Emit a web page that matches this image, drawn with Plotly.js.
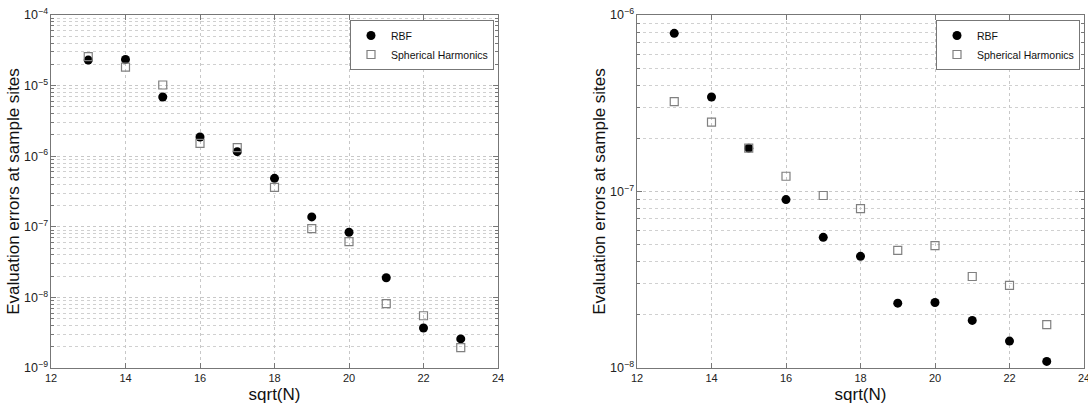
<!DOCTYPE html>
<html>
<head>
<meta charset="utf-8">
<script src="https://cdn.plot.ly/plotly-3.0.1.min.js"></script>
<style>html,body{margin:0;padding:0;background:#fff;}#chart{width:1088px;height:404px;}</style>
</head>
<body>
<div id="chart"></div>
<script>
// sqrt(N) values
const sqrtN = [13, 14, 15, 16, 17, 18, 19, 20, 21, 22, 23];
// Left panel
const leftRBF = [2.3e-5, 2.35e-5, 6.9e-6, 1.87e-6, 1.16e-6, 4.86e-7, 1.38e-7, 8.36e-8, 1.9e-8, 3.69e-9, 2.58e-9];
const leftSH  = [2.57e-5, 1.83e-5, 1.02e-5, 1.52e-6, 1.32e-6, 3.62e-7, 9.4e-8, 6.15e-8, 8.15e-9, 5.5e-9, 1.94e-9];
// Right panel
const rightRBF = [7.87e-7, 3.43e-7, 1.76e-7, 9.0e-8, 5.5e-8, 4.29e-8, 2.33e-8, 2.35e-8, 1.86e-8, 1.42e-8, 1.09e-8];
const rightSH  = [3.23e-7, 2.47e-7, 1.76e-7, 1.22e-7, 9.49e-8, 8.0e-8, 4.64e-8, 4.93e-8, 3.3e-8, 2.94e-8, 1.76e-8];
const xTicks = [12, 14, 16, 18, 20, 22, 24];
const seriesNames = ["RBF", "Spherical Harmonics"];
const yTitle = "Evaluation errors at sample sites";
const xTitle = "sqrt(N)";

const FONT = "Arial, 'Liberation Sans', sans-serif";
const rbfMarker = {symbol: "circle", size: 9, color: "#000", line: {width: 0}};
const shMarker = {symbol: "square-open", size: 8, color: "#808080", line: {width: 1.2, color: "#808080"}};

const traces = [
  {x: sqrtN, y: leftRBF, name: seriesNames[0], mode: "markers", marker: rbfMarker, xaxis: "x", yaxis: "y", legend: "legend"},
  {x: sqrtN, y: leftSH, name: seriesNames[1], mode: "markers", marker: shMarker, xaxis: "x", yaxis: "y", legend: "legend"},
  {x: sqrtN, y: rightRBF, name: seriesNames[0], mode: "markers", marker: rbfMarker, xaxis: "x2", yaxis: "y2", legend: "legend2"},
  {x: sqrtN, y: rightSH, name: seriesNames[1], mode: "markers", marker: shMarker, xaxis: "x2", yaxis: "y2", legend: "legend2"}
];

const W = 1088, H = 404;
const yDom = [1 - 368 / H, 1 - 15 / H];

function xAxis(domain, anchor) {
  return {
    domain: domain, anchor: anchor, range: [12, 24],
    tickvals: xTicks, ticktext: xTicks.map(String),
    ticks: "inside", ticklen: 5, tickcolor: "#777", mirror: "allticks",
    showline: true, linecolor: "#777", linewidth: 1,
    showgrid: true, gridcolor: "#c8c8c8", griddash: "dot", gridwidth: 1,
    zeroline: false, ticklabeloverflow: "allow",
    tickfont: {family: FONT, size: 11, color: "#222"},
    title: {text: xTitle, font: {family: FONT, size: 17, color: "#111"}, standoff: 4}
  };
}
function yAxis(domain, anchor, range, standoff) {
  return {
    domain: domain, anchor: anchor, type: "log", range: range,
    dtick: 1, exponentformat: "power",
    ticks: "inside", ticklen: 5, tickcolor: "#777", mirror: "allticks",
    showline: true, linecolor: "#777", linewidth: 1,
    showgrid: true, gridcolor: "#c8c8c8", griddash: "dot", gridwidth: 1,
    minor: {dtick: "D1", ticks: "inside", ticklen: 3, tickcolor: "#777", showgrid: true, gridcolor: "#d0d0d0", griddash: "dot", gridwidth: 1},
    zeroline: false,
    tickfont: {family: FONT, size: 10, color: "#222"},
    title: {text: yTitle, font: {family: FONT, size: 17, color: "#111"}, standoff: standoff}
  };
}

const legendStyle = (x) => ({
  x: x, y: 1 - 20 / H, xanchor: "right", yanchor: "top",
  bgcolor: "#fff", bordercolor: "#777", borderwidth: 1,
  font: {family: FONT, size: 10.5, color: "#111"},
  tracegroupgap: 0
});

const layout = {
  width: W, height: H,
  margin: {l: 0, r: 0, t: 0, b: 0},
  paper_bgcolor: "#fff", plot_bgcolor: "#fff",
  showlegend: true,
  xaxis: xAxis([51 / W, 498 / W], "y"),
  yaxis: yAxis(yDom, "x", [-9, -4], 0),
  xaxis2: xAxis([637 / W, 1084 / W], "y2"),
  yaxis2: yAxis(yDom, "x2", [-8, -6], 0),
  legend: legendStyle(494 / W),
  legend2: legendStyle(1080 / W)
};

Plotly.newPlot("chart", traces, layout, {staticPlot: true, displayModeBar: false});
</script>
</body>
</html>
